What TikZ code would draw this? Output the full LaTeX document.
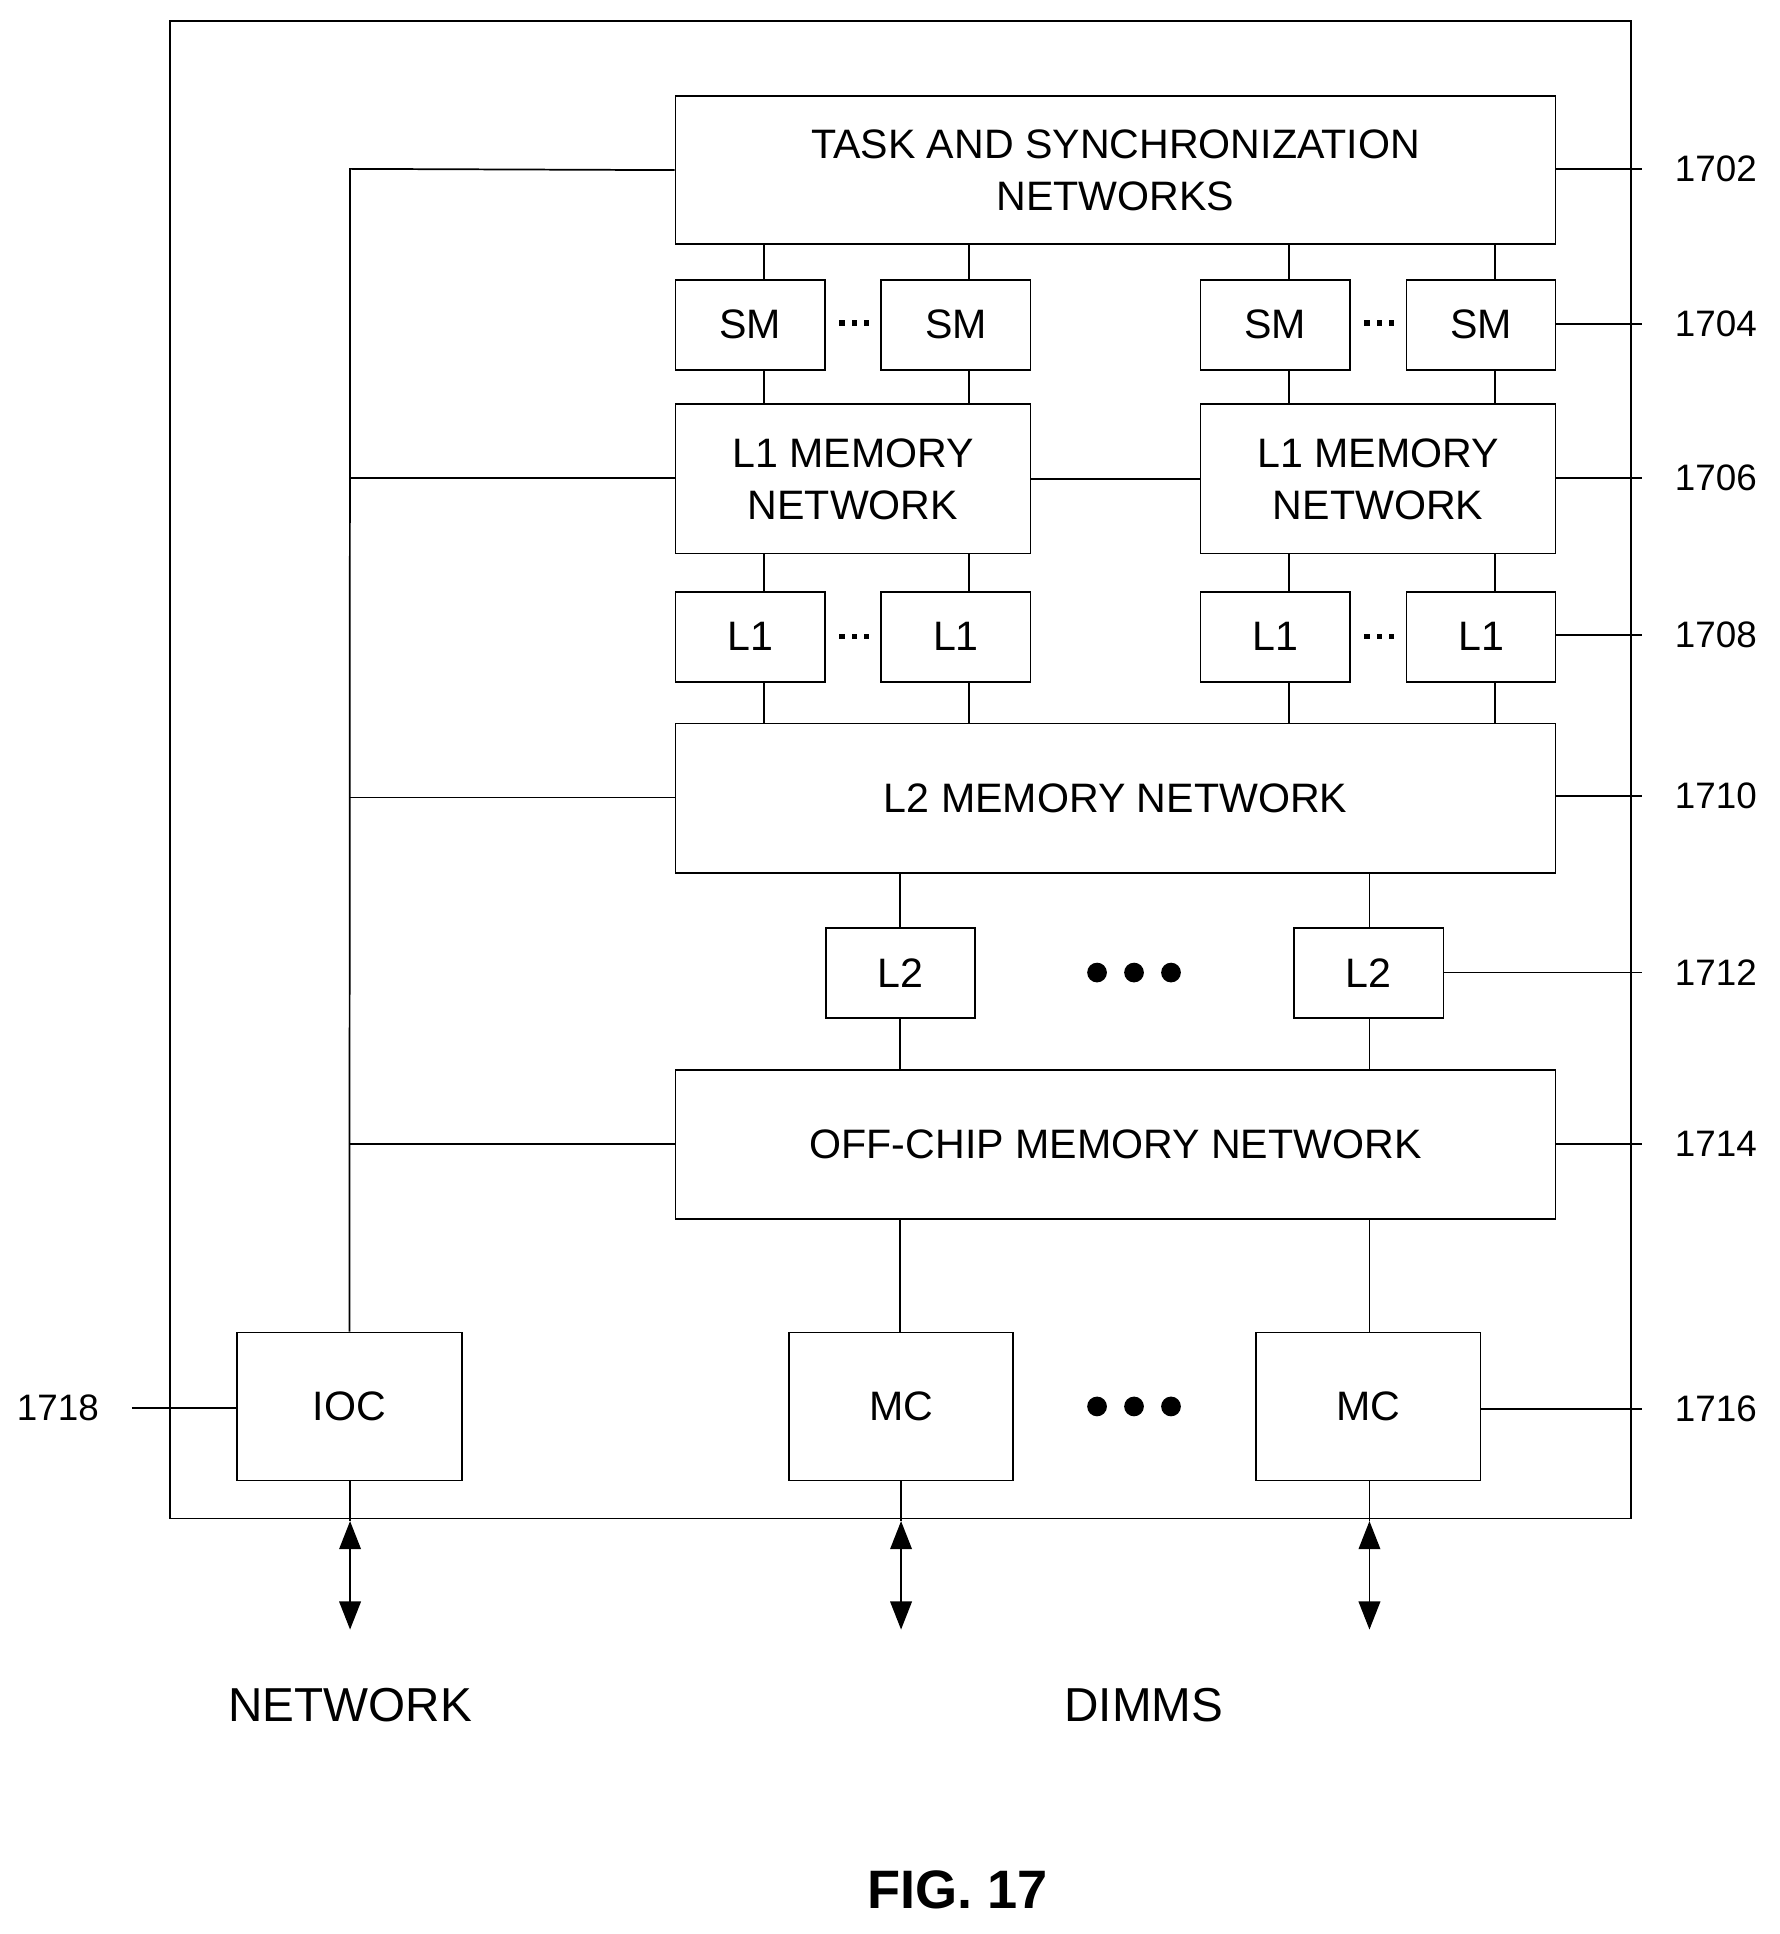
\documentclass[tikz,border=0pt]{standalone}
\usepackage{fontspec}
\setmainfont{Liberation Sans}
\usetikzlibrary{fit,arrows.meta}
\begin{document}
\begin{tikzpicture}[x=0.02cm,y=-0.02cm,
 box/.style={draw,line width=0.8pt,inner sep=0pt},
 txt/.style={align=center,font=\fontsize{19}{24}\selectfont},
 ln/.style={line width=0.8pt},
 lab/.style={font=\fontsize{17}{20}\selectfont},
 big/.style={font=\fontsize{22}{26}\selectfont}]
\useasboundingbox (0,0) rectangle (1444,1569);
\draw[ln] (138,17) rectangle (1323,1232);
\newcommand\bx[4]{\node[box,fit={#2}] (#1) {}; \node[txt] at (#1.center) {#3};}
\bx{task}{(548,78)(1262,198)}{TASK AND SYNCHRONIZATION\\NETWORKS}{}
\foreach \n/\a/\b in {1/548/669,2/715/836,3/974/1095,4/1141/1262}{
 \node[box,fit={(\a,227)(\b,300)}] (sm\n) {}; \node[txt] at (sm\n.center) {SM};
 \node[box,fit={(\a,480)(\b,553)}] (l\n) {}; \node[txt] at (l\n.center) {L1};
}
\bx{m1}{(548,328)(836,449)}{L1 MEMORY\\NETWORK}{}
\bx{m2}{(974,328)(1262,449)}{L1 MEMORY\\NETWORK}{}
\bx{l2m}{(548,587)(1262,708)}{L2 MEMORY NETWORK}{}
\bx{l2a}{(670,753)(791,826)}{L2}{}
\bx{l2b}{(1050,753)(1171,826)}{L2}{}
\bx{off}{(548,868)(1262,989)}{OFF-CHIP MEMORY NETWORK}{}
\bx{ioc}{(192,1081)(375,1201)}{IOC}{}
\bx{mc1}{(640,1081)(822,1201)}{MC}{}
\bx{mc2}{(1019,1081)(1201,1201)}{MC}{}
% dots
\foreach \x in {693,1119}{\foreach \d in {-10,0,10}{\fill (\x+\d-2.2,260) rectangle (\x+\d+2.2,264.5); \fill (\x+\d-2.2,514) rectangle (\x+\d+2.2,518.5);}}
\foreach \x in {890,920,950}{\fill (\x,789) circle (8);}
\foreach \x in {890,920,950}{\fill (\x,1141) circle (8);}
% verticals
\foreach \x in {620,786,1046,1213}{
 \draw[ln] (\x,198) -- (\x,227); \draw[ln] (\x,300) -- (\x,328);
 \draw[ln] (\x,449) -- (\x,480); \draw[ln] (\x,553) -- (\x,587);}
\draw[ln] (m1.east) -- (m2.west);
\foreach \x in {730,1111}{
 \draw[ln] (\x,708) -- (\x,753); \draw[ln] (\x,826) -- (\x,868); \draw[ln] (\x,989) -- (\x,1081);}
% bus
\draw[ln] (ioc.north) -- (284,137) -- (task.west);
\foreach \y in {388,647,928}{\draw[ln] (284,\y) -- (548,\y);}
% arrows
\foreach \x in {284,731,1111}{
 \draw[ln] (\x,1201) -- (\x,1234);
 \draw[ln,{Triangle[length=13pt,width=10pt]}-{Triangle[length=13pt,width=10pt]}] (\x,1234) -- (\x,1322);}
% reference labels
\foreach \y/\x/\t in {137/1262/1702,263/1262/1704,388/1262/1706,515/1262/1708,646/1262/1710,789/1171/1712,928/1262/1714,1143/1201/1716}{
 \draw[ln] (\x,\y) -- (1332,\y); \node[lab] at (1392,\y) {\t};}
\draw[ln] (107,1142) -- (192,1142); \node[lab] at (47,1142) {1718};
\node[big] at (284,1383) {NETWORK};
\node[big] at (928,1383) {DIMMS};
\node[font=\fontsize{25}{30}\selectfont\bfseries] at (777,1533) {FIG. 17};
\end{tikzpicture}
\end{document}
